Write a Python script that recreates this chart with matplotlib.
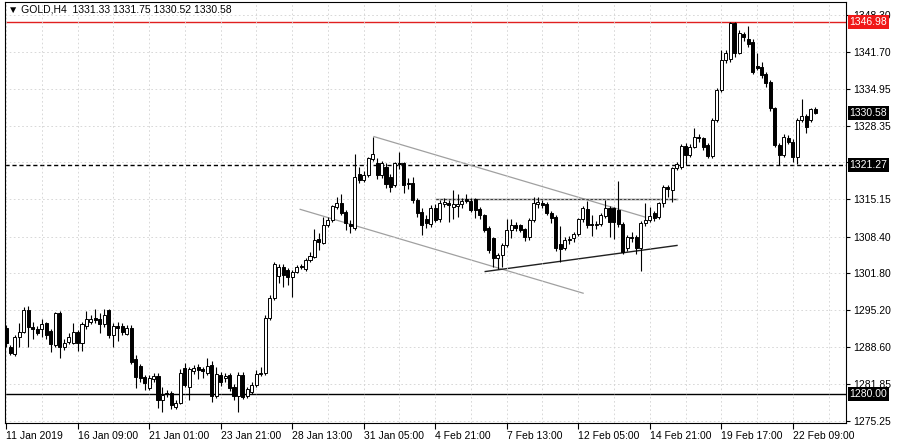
import matplotlib
matplotlib.use("Agg")
import matplotlib.pyplot as plt
import numpy as np

plt.rcParams['font.family'] = ['Liberation Sans', 'DejaVu Sans']

# ---------------- data ----------------
opens = [1292.0, 1288.6, 1287.2, 1290.3, 1291.3, 1295.1, 1292.2, 1291.7, 1291.8, 1292.8,
         1291.4, 1288.9, 1294.7, 1288.6, 1289.5, 1289.2, 1291.2, 1289.3, 1292.3, 1293.1,
         1293.8, 1293.5, 1292.6, 1295.1, 1290.6, 1292.3, 1292.3, 1290.9, 1292.0, 1286.4,
         1285.1, 1283.1, 1281.1, 1282.7, 1283.3, 1279.0, 1280.2, 1280.2, 1277.8, 1278.5,
         1284.7, 1281.4, 1284.2, 1285.0, 1284.5, 1283.9, 1285.2, 1279.7, 1283.5, 1282.9,
         1283.5, 1281.4, 1279.7, 1283.5, 1279.7, 1280.5, 1281.7, 1283.7, 1283.8, 1293.7,
         1297.3, 1301.3, 1303.0, 1302.4, 1301.2, 1302.1, 1303.1, 1302.5, 1304.2, 1304.8,
         1307.9, 1307.3, 1310.5, 1311.3, 1313.7, 1314.5, 1312.9, 1310.7, 1309.9, 1319.6,
         1318.6, 1319.5, 1322.4, 1321.6, 1319.5, 1320.9, 1319.2, 1317.7, 1321.6, 1321.6,
         1318.1, 1318.0, 1315.0, 1312.9, 1311.5, 1310.7, 1313.6, 1311.5, 1314.3, 1314.5,
         1313.8, 1313.9, 1314.2, 1315.1, 1314.8, 1315.1, 1313.4, 1312.2, 1309.9, 1308.1,
         1304.5, 1305.1, 1306.9, 1309.6, 1310.5, 1310.4, 1309.7, 1308.4, 1311.4, 1314.2,
         1314.5, 1314.3, 1312.6, 1312.0, 1307.0, 1306.3, 1307.9, 1308.1, 1308.9, 1311.5,
         1313.3, 1310.6, 1310.5, 1310.7, 1312.1, 1313.6, 1313.5, 1313.2, 1310.7, 1306.3,
         1308.3, 1308.3, 1306.3, 1310.8, 1311.4, 1312.6, 1311.9, 1314.4, 1317.3, 1316.8,
         1320.7, 1321.0, 1324.7, 1323.1, 1324.6, 1326.3, 1326.1, 1324.9, 1322.9, 1329.4,
         1334.8, 1340.2, 1340.3, 1346.8, 1341.5, 1344.9, 1343.9, 1343.5, 1339.1, 1339.0,
         1337.7, 1336.3, 1331.5, 1324.9, 1323.1, 1326.2, 1325.5, 1322.8, 1329.4, 1330.1,
         1329.4, 1331.33]
highs = [1292.5, 1288.9, 1290.6, 1292.8, 1295.8, 1295.9, 1293.0, 1292.3, 1293.5, 1293.0,
         1291.8, 1294.9, 1295.0, 1290.0, 1291.1, 1292.8, 1291.6, 1293.0, 1295.0, 1294.3,
         1295.3, 1294.6, 1295.3, 1295.3, 1292.9, 1293.0, 1292.9, 1292.4, 1292.4, 1287.0,
         1285.5, 1283.5, 1283.4, 1283.9, 1283.8, 1281.4, 1280.8, 1280.6, 1279.0, 1284.5,
         1285.6, 1285.0, 1285.3, 1285.4, 1284.9, 1286.5, 1286.0, 1285.0, 1284.0, 1283.9,
         1283.8, 1281.8, 1284.0, 1284.0, 1281.4, 1282.2, 1284.3, 1285.0, 1294.3, 1297.8,
         1303.9, 1303.5, 1303.5, 1302.8, 1302.4, 1303.3, 1303.5, 1304.5, 1305.7, 1309.7,
         1309.0, 1312.0, 1311.9, 1314.1, 1315.6, 1316.0, 1313.2, 1311.3, 1323.3, 1320.9,
         1320.2, 1322.8, 1326.4, 1322.5, 1322.0, 1321.6, 1319.6, 1321.8, 1323.7, 1321.8,
         1319.0, 1319.2, 1315.4, 1313.5, 1312.2, 1314.0, 1314.2, 1315.0, 1315.3, 1315.0,
         1316.8, 1316.0, 1315.3, 1316.0, 1315.3, 1315.4, 1313.8, 1312.5, 1310.3, 1308.4,
         1305.5, 1307.3, 1311.5, 1311.6, 1311.0, 1310.7, 1310.0, 1311.7, 1315.6, 1315.6,
         1315.0, 1314.7, 1313.0, 1312.3, 1310.3, 1308.3, 1308.5, 1309.3, 1311.8, 1313.9,
         1314.8, 1312.2, 1311.2, 1312.7, 1315.0, 1313.9, 1313.8, 1318.4, 1311.0, 1308.7,
         1309.2, 1308.6, 1311.2, 1314.4, 1313.8, 1313.0, 1314.7, 1317.6, 1317.6, 1321.0,
         1321.9, 1325.0, 1325.2, 1325.0, 1327.9, 1326.8, 1326.4, 1325.3, 1329.8, 1335.2,
         1342.0, 1342.0, 1346.98, 1346.98, 1345.5, 1345.3, 1346.3, 1344.0, 1341.4, 1339.9,
         1338.0, 1336.6, 1331.8, 1325.3, 1326.8, 1326.7, 1325.9, 1329.8, 1333.1, 1330.5,
         1331.6, 1331.75]
lows = [1288.5, 1287.0, 1286.9, 1288.6, 1291.0, 1288.5, 1289.9, 1290.7, 1290.4, 1290.0,
        1287.6, 1288.5, 1286.6, 1288.0, 1289.0, 1289.0, 1287.8, 1287.8, 1291.8, 1292.6,
        1292.8, 1291.1, 1292.2, 1290.2, 1288.6, 1289.6, 1290.6, 1290.6, 1285.5, 1281.1,
        1282.3, 1280.8, 1280.7, 1282.2, 1277.5, 1276.9, 1279.6, 1277.3, 1277.3, 1278.3,
        1281.3, 1279.0, 1283.6, 1282.7, 1283.0, 1283.4, 1278.7, 1279.3, 1281.5, 1282.3,
        1280.6, 1278.9, 1276.9, 1279.2, 1279.3, 1280.0, 1281.3, 1283.3, 1283.5, 1293.3,
        1297.0, 1300.0, 1299.4, 1299.6, 1297.6, 1301.8, 1302.5, 1302.2, 1303.9, 1304.5,
        1306.0, 1307.0, 1310.2, 1311.0, 1313.3, 1312.3, 1309.5, 1309.0, 1309.5, 1318.0,
        1318.2, 1319.2, 1322.0, 1318.8, 1319.0, 1317.2, 1316.5, 1317.3, 1320.5, 1316.2,
        1316.9, 1314.5, 1312.0, 1308.7, 1310.0, 1310.2, 1311.0, 1311.0, 1313.8, 1311.0,
        1311.5, 1312.0, 1313.5, 1314.5, 1312.8, 1311.8, 1311.6, 1309.2, 1305.5, 1303.0,
        1302.5, 1303.0, 1306.5, 1308.2, 1309.4, 1309.2, 1307.6, 1307.8, 1311.0, 1313.5,
        1313.5, 1312.2, 1310.8, 1305.8, 1303.9, 1305.9, 1307.0, 1307.5, 1308.5, 1311.0,
        1310.0, 1308.5, 1309.8, 1310.3, 1311.8, 1308.3, 1308.0, 1310.2, 1305.2, 1305.8,
        1307.5, 1305.3, 1302.2, 1310.3, 1311.0, 1311.2, 1311.5, 1313.8, 1315.5, 1314.6,
        1320.3, 1320.5, 1321.3, 1322.8, 1324.3, 1325.5, 1324.0, 1322.5, 1322.5, 1329.0,
        1334.4, 1339.6, 1339.8, 1340.8, 1341.2, 1343.6, 1342.6, 1337.6, 1338.3, 1337.0,
        1335.4, 1331.0, 1324.5, 1321.3, 1322.8, 1325.0, 1321.9, 1321.5, 1329.0, 1327.0,
        1329.0, 1330.52]
closes = [1289.2, 1287.4, 1290.4, 1291.3, 1295.1, 1292.1, 1291.7, 1291.1, 1292.7, 1290.7,
          1289.0, 1294.6, 1288.6, 1289.2, 1290.4, 1291.2, 1289.2, 1292.6, 1293.5, 1293.6,
          1293.3, 1292.6, 1294.3, 1290.6, 1292.3, 1291.9, 1291.2, 1291.9, 1285.9, 1283.2,
          1282.9, 1282.0, 1282.9, 1283.3, 1279.0, 1279.9, 1280.0, 1278.1, 1278.5, 1283.9,
          1281.7, 1284.5, 1284.8, 1284.4, 1284.2, 1285.1, 1279.7, 1283.6, 1282.3, 1283.3,
          1281.1, 1279.7, 1283.5, 1279.6, 1280.9, 1281.7, 1283.7, 1283.9, 1293.7, 1297.3,
          1303.5, 1303.0, 1301.5, 1301.2, 1302.1, 1302.9, 1302.9, 1304.2, 1304.9, 1307.8,
          1307.5, 1310.5, 1311.4, 1313.9, 1314.4, 1312.7, 1310.8, 1310.3, 1319.2, 1318.6,
          1319.5, 1322.5, 1323.3, 1319.5, 1321.6, 1317.8, 1317.4, 1321.6, 1321.4, 1317.7,
          1317.9, 1315.0, 1312.6, 1310.5, 1310.8, 1313.6, 1311.4, 1314.5, 1314.6, 1314.1,
          1314.3, 1314.2, 1314.8, 1314.8, 1313.1, 1313.1, 1312.2, 1309.6, 1306.0, 1304.5,
          1305.1, 1306.9, 1309.6, 1310.5, 1309.9, 1309.6, 1308.4, 1311.4, 1314.5, 1314.6,
          1314.1, 1312.6, 1311.7, 1306.3, 1306.2, 1307.8, 1307.8, 1308.9, 1311.5, 1313.5,
          1310.5, 1310.5, 1310.7, 1312.3, 1313.5, 1311.1, 1311.1, 1310.7, 1305.7, 1308.3,
          1308.1, 1306.3, 1310.8, 1311.4, 1312.1, 1311.7, 1314.4, 1317.3, 1316.9, 1320.7,
          1321.4, 1324.7, 1323.1, 1324.6, 1326.3, 1326.1, 1324.6, 1322.9, 1329.4, 1334.8,
          1340.2, 1341.4, 1346.8, 1341.4, 1345.0, 1344.4, 1343.0, 1338.1, 1338.7, 1337.5,
          1336.0, 1331.5, 1324.9, 1323.1, 1326.4, 1325.5, 1322.8, 1329.4, 1330.1, 1328.2,
          1331.3, 1330.58]

x_labels = ["11 Jan 2019", "16 Jan 09:00", "21 Jan 01:00", "23 Jan 21:00", "28 Jan 13:00",
            "31 Jan 05:00", "4 Feb 21:00", "7 Feb 13:00", "12 Feb 05:00", "14 Feb 21:00",
            "19 Feb 17:00", "22 Feb 09:00"]
bars_per_label = 16
bars_per_grid = 8
y_ticks = [1348.30, 1341.70, 1334.95, 1328.35, 1321.75, 1315.15, 1308.40,
           1301.80, 1295.20, 1288.60, 1281.85, 1275.25]
y_hidden = [1321.75]   # covered by the 1321.27 price box in the reference

level_high = 1346.98
level_mid = 1321.27
level_low = 1280.00
last_price = 1330.58
title = "\u25BC GOLD,H4  1331.33 1331.75 1330.52 1330.58"

# trend lines: (bar indices, prices)
channel_upper_x = [82.3, 143.0]
channel_upper_y = [1326.4, 1311.9]
channel_lower_x = [65.8, 129.1]
channel_lower_y = [1313.3, 1298.2]
resistance_x = [96.2, 150.1]
resistance_y = [1315.15, 1315.15]
support_x = [107.2, 150.1]
support_y = [1302.1, 1306.8]

# ---------------- plot ----------------
n = len(closes)
idx = np.arange(n)
o = np.array(opens); h = np.array(highs); l = np.array(lows); c = np.array(closes)

fig = plt.figure(figsize=(9, 4.43), dpi=100)
fig.patch.set_facecolor('white')
ax = fig.add_axes([5/900, 20/443, 841/900, 421/443])
ax.set_facecolor('white')

ax.set_xlim(-0.22, 187.9)
ax.set_ylim(1274.83, 1350.63)

# grid
ax.set_yticks(y_ticks)
ax.set_xticks(np.arange(0, n, bars_per_label))
ax.set_xticks(np.arange(0, 190, bars_per_grid), minor=True)
ax.grid(True, which='major', axis='y', color='#d2d2d2', linestyle=(0, (2, 3)), linewidth=0.6, zorder=0)
ax.grid(True, which='both', axis='x', color='#d2d2d2', linestyle=(0, (2, 3)), linewidth=0.6, zorder=0)

# horizontal levels
ax.axhline(level_high, color='#e02020', linewidth=1.0, zorder=1)
ax.axhline(level_mid, color='black', linewidth=1.0, linestyle=(0, (3, 2)), zorder=1)
ax.axhline(level_low, color='black', linewidth=1.0, zorder=1)

# trend lines
ax.plot(channel_upper_x, channel_upper_y, color='#a0a0a0', linewidth=0.9, zorder=1.5)
ax.plot(channel_lower_x, channel_lower_y, color='#a0a0a0', linewidth=0.9, zorder=1.5)
ax.plot(resistance_x, resistance_y, color='#404040', linewidth=1.0, zorder=1.5)
ax.plot(support_x, support_y, color='#202020', linewidth=1.0, zorder=1.5)

# candles
ax.vlines(idx, l, h, color='black', linewidth=0.8, zorder=2)
bull = c >= o
bottoms = np.minimum(o, c)
heights = np.maximum(np.abs(c - o), 0.05)
ax.bar(idx[bull], heights[bull], bottom=bottoms[bull], width=0.68,
       facecolor='white', edgecolor='black', linewidth=0.7, zorder=3)
ax.bar(idx[~bull], heights[~bull], bottom=bottoms[~bull], width=0.68,
       facecolor='black', edgecolor='black', linewidth=0.7, zorder=3)

# axes styling
for s in ax.spines.values():
    s.set_color('black')
    s.set_linewidth(0.8)
ax.yaxis.tick_right()
ax.tick_params(axis='y', which='major', direction='out', length=3, width=0.8, pad=2,
               labelsize=7.5, colors='black')
ax.tick_params(axis='x', which='major', direction='out', length=4, width=0.8, pad=2,
               labelsize=7.5, colors='black')
ax.tick_params(axis='x', which='minor', length=0)
ax.set_yticklabels(["" if v in y_hidden else "%.2f" % v for v in y_ticks])
ax.set_xticklabels(x_labels)
for t in ax.get_xticklabels():
    t.set_horizontalalignment('left')

# price boxes
def price_box(val, fc):
    ax.annotate("%.2f" % val, xy=(1.0, val), xycoords=('axes fraction', 'data'),
                xytext=(2.5, 0), textcoords='offset points', ha='left', va='center',
                fontsize=7.5, color='white', zorder=6, annotation_clip=False,
                bbox=dict(boxstyle='square,pad=0.18', fc=fc, ec='none'))

price_box(level_high, '#f01818')
price_box(last_price, 'black')
price_box(level_mid, 'black')
price_box(level_low, 'black')

ax.text(0.003, 0.993, title, transform=ax.transAxes, ha='left', va='top',
        fontsize=7.5, color='black', zorder=7)

fig.savefig('out.png', dpi=100, facecolor='white')
